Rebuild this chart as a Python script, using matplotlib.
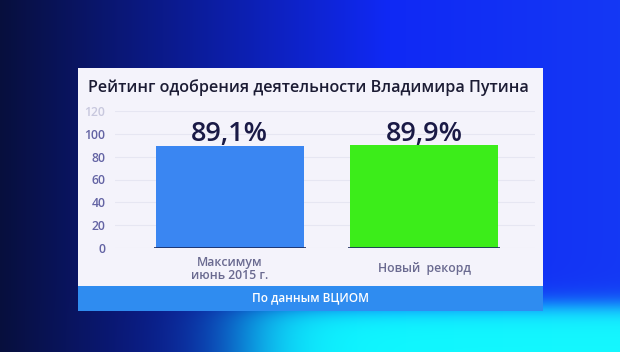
#!/usr/bin/env python3
"""Putin approval rating bar chart (TV-style slide)."""

import numpy as np
import matplotlib

matplotlib.use("Agg")
import matplotlib.pyplot as plt
from matplotlib import font_manager as fm
from matplotlib.patches import Rectangle

TITLE = "Рейтинг одобрения деятельности Владимира Путина"
SOURCE = "По данным ВЦИОМ"
categories = ["Максимум\nиюнь 2015 г.", "Новый  рекорд"]
values = [89.1, 89.9]
bar_colors = ["#3a86f2", "#3ced1a"]
yticks = [0, 20, 40, 60, 80, 100, 120]

W, H = 620, 352


def _weight(w):
    if isinstance(w, int):
        return w
    return fm.weight_dict.get(str(w), 400)


def _pick_medium():
    # a family that actually ships a medium / semibold face
    for fam in ["Open Sans", "Noto Sans", "Roboto", "Inter", "Lato"]:
        for f in fm.fontManager.ttflist:
            if f.name == fam and 500 <= _weight(f.weight) <= 600:
                return fam, _weight(f.weight)
    return "Open Sans", "bold"


FAM, MED = _pick_medium()
plt.rcParams["font.family"] = [FAM, "DejaVu Sans"]

fig = plt.figure(figsize=(W / 100, H / 100), dpi=100)

# background: dark navy left -> bright blue, cyan glow lower right
bg = fig.add_axes([0, 0, 1, 1], zorder=-10)
yy, xx = np.mgrid[0:1:H * 1j, 0:1:W * 1j]
r = 0.03 + 0.05 * xx
g = 0.06 + 0.16 * xx
b = 0.24 + 0.72 * np.clip(xx * 1.6, 0, 1)
cyan = 1 / (1 + np.exp(-(xx - 0.40) * 22)) * 1 / (1 + np.exp(-(yy - 0.87) * 55))
g = g * (1 - cyan) + 0.97 * cyan
b = b * (1 - cyan) + 1.0 * cyan
img = np.clip(np.dstack([r, g, b]), 0, 1)
bg.imshow(img, aspect="auto", extent=[0, 1, 0, 1], origin="upper")
bg.axis("off")

# white panel and footer bar
fig.add_artist(Rectangle((78 / W, 1 - 286 / H), 465 / W, 218 / H,
                         transform=fig.transFigure, facecolor="#f4f3fb",
                         edgecolor="none", zorder=-5))
fig.add_artist(Rectangle((78 / W, 1 - 311 / H), 465 / W, 25 / H,
                         transform=fig.transFigure, facecolor="#2f8cf0",
                         edgecolor="none", zorder=-5))

fig.text(88 / W, 1 - 88 / H, TITLE, fontsize=11.6, fontweight=MED,
         color="#1c1c34", va="center", ha="left")
fig.text(310 / W, 1 - 298 / H, SOURCE, fontsize=8.5, fontweight=MED,
         color="white", va="center", ha="center")

ax = fig.add_axes([115 / W, 104 / H, 420 / W, 137 / H])
ax.patch.set_alpha(0)
x = np.arange(len(values))
width = 0.76
ax.bar(x, values, width=width, color=bar_colors, zorder=3)
ax.hlines([0] * len(x), x - width / 2 - 0.01, x + width / 2 + 0.01,
          color="#1a2a60", linewidth=1.2, zorder=4)

for xi, v in zip(x, values):
    ax.text(xi, v + 4.2, f"{v:.1f}".replace(".", ",") + "%", ha="center",
            va="baseline", fontsize=19.5, fontweight=MED, color="#1a1a46",
            zorder=5)

for xi, lab in zip(x, categories):
    ax.annotate(lab, (xi, 0), xycoords=("data", "axes fraction"),
                xytext=(0, -15), textcoords="offset points", ha="center",
                va="center", fontsize=8.8, fontweight=MED,
                color="#6a6a90", linespacing=1.05)

ax.set_xlim(-0.59, 1.57)
ax.set_ylim(0, 120)
ax.set_yticks(yticks)
ax.set_yticklabels([str(t) for t in yticks], fontweight=MED)
ax.tick_params(axis="y", length=0, pad=7, labelsize=8.8, labelcolor="#6464a4")
ax.get_yticklabels()[-1].set_color("#c8c8de")
ax.set_xticks([])
ax.grid(axis="y", color="#e6e6f2", linewidth=0.8, zorder=0)
for s in ax.spines.values():
    s.set_visible(False)

fig.savefig("out.png", dpi=100)
